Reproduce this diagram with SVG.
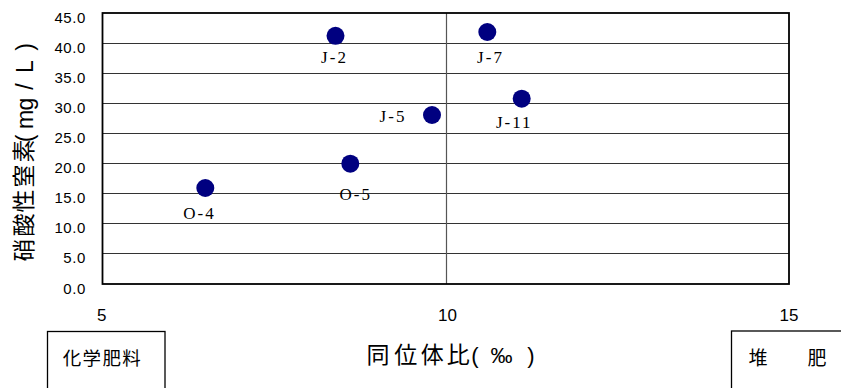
<svg xmlns="http://www.w3.org/2000/svg" width="841" height="388" viewBox="0 0 841 388">
<style>
.bg{fill:#fff}
.grid{stroke:#333;stroke-width:1;fill:none}
.vline{stroke:#555;stroke-width:1.2;fill:none}
.frame{stroke:#000;stroke-width:1.8;fill:none}
.box{stroke:#000;stroke-width:1.3;fill:#fff}
.ytick{font-family:"Liberation Sans",Arial,sans-serif;font-size:15px;letter-spacing:0.6px;fill:#000;text-anchor:end}
.xtick{font-family:"Liberation Sans",Arial,sans-serif;font-size:17px;fill:#000;text-anchor:middle}
.cjk{font-family:"Noto Sans CJK JP","Noto Sans CJK SC",sans-serif;fill:#000;text-anchor:middle}
.lat{font-family:"Liberation Sans",Arial,sans-serif}
.pt{fill:#000080}
.plab{font-family:"Liberation Serif","Times New Roman",serif;font-size:17px;letter-spacing:2px;fill:#000;text-anchor:middle}
</style>
<rect class="bg" x="0" y="0" width="841" height="388"/>
<g id="grid">
<line class="grid" x1="102.5" y1="43.5" x2="789" y2="43.5"/>
<line class="grid" x1="102.5" y1="73.5" x2="789" y2="73.5"/>
<line class="grid" x1="102.5" y1="103.5" x2="789" y2="103.5"/>
<line class="grid" x1="102.5" y1="133.5" x2="789" y2="133.5"/>
<line class="grid" x1="102.5" y1="163.5" x2="789" y2="163.5"/>
<line class="grid" x1="102.5" y1="193.5" x2="789" y2="193.5"/>
<line class="grid" x1="102.5" y1="223.5" x2="789" y2="223.5"/>
<line class="grid" x1="102.5" y1="253.5" x2="789" y2="253.5"/>
<line class="vline" x1="446.5" y1="13" x2="446.5" y2="284"/>
<rect class="frame" x="102.5" y="13" width="686.5" height="271"/>
</g>
<g id="yaxis">
<text class="ytick" x="86" y="22.7">45.0</text>
<text class="ytick" x="86" y="52.8">40.0</text>
<text class="ytick" x="86" y="82.9">35.0</text>
<text class="ytick" x="86" y="113">30.0</text>
<text class="ytick" x="86" y="143.1">25.0</text>
<text class="ytick" x="86" y="173.1">20.0</text>
<text class="ytick" x="86" y="203.2">15.0</text>
<text class="ytick" x="86" y="233.3">10.0</text>
<text class="ytick" x="86" y="263.4">5.0</text>
<text class="ytick" x="86" y="293.5">0.0</text>
<text class="cjk" transform="rotate(-90)" style="font-size:23px"><tspan y="31.5" x="-249.9 -224.9 -200.9 -175.9 -150.9">硝酸性窒素</tspan><tspan class="lat" y="33" style="font-size:23px" x="-138.5 -119.5 -104 -86.5 -66.5 -47">(mg/L)</tspan></text>
</g>
<g id="xaxis">
<text class="xtick" x="101.7" y="321">5</text>
<text class="xtick" x="447.5" y="321">10</text>
<text class="xtick" x="789" y="321">15</text>
<text class="cjk" style="font-size:23px" y="363"><tspan x="378 405.8 432.3 458.3">同位体比</tspan><tspan class="lat" style="font-size:22px" x="475 501.5 531">(‰)</tspan></text>
</g>
<g id="points">
<g id="J-2"><circle class="pt" cx="335.5" cy="35.8" r="9"/><text class="plab" x="334.5" y="63">J-2</text></g>
<g id="J-7"><circle class="pt" cx="487.3" cy="32" r="9"/><text class="plab" x="490.5" y="63">J-7</text></g>
<g id="J-5"><circle class="pt" cx="432" cy="115" r="9"/><text class="plab" x="393" y="121.5">J-5</text></g>
<g id="J-11"><circle class="pt" cx="521.7" cy="98.7" r="9"/><text class="plab" x="514.3" y="128">J-11</text></g>
<g id="O-5"><circle class="pt" cx="350.3" cy="163.7" r="9"/><text class="plab" x="355.8" y="200">O-5</text></g>
<g id="O-4"><circle class="pt" cx="205.3" cy="188" r="9"/><text class="plab" x="199.5" y="219">O-4</text></g>
</g>
<g id="box-chem">
<rect class="box" x="47.5" y="331.5" width="117.5" height="70"/>
<text class="cjk" style="font-size:18.5px" y="365" x="72 91.8 111.7 131.5">化学肥料</text>
</g>
<g id="box-compost">
<rect class="box" x="731.5" y="331" width="130" height="70"/>
<text class="cjk" style="font-size:19px" y="365" x="758 817">堆肥</text>
</g>
</svg>
